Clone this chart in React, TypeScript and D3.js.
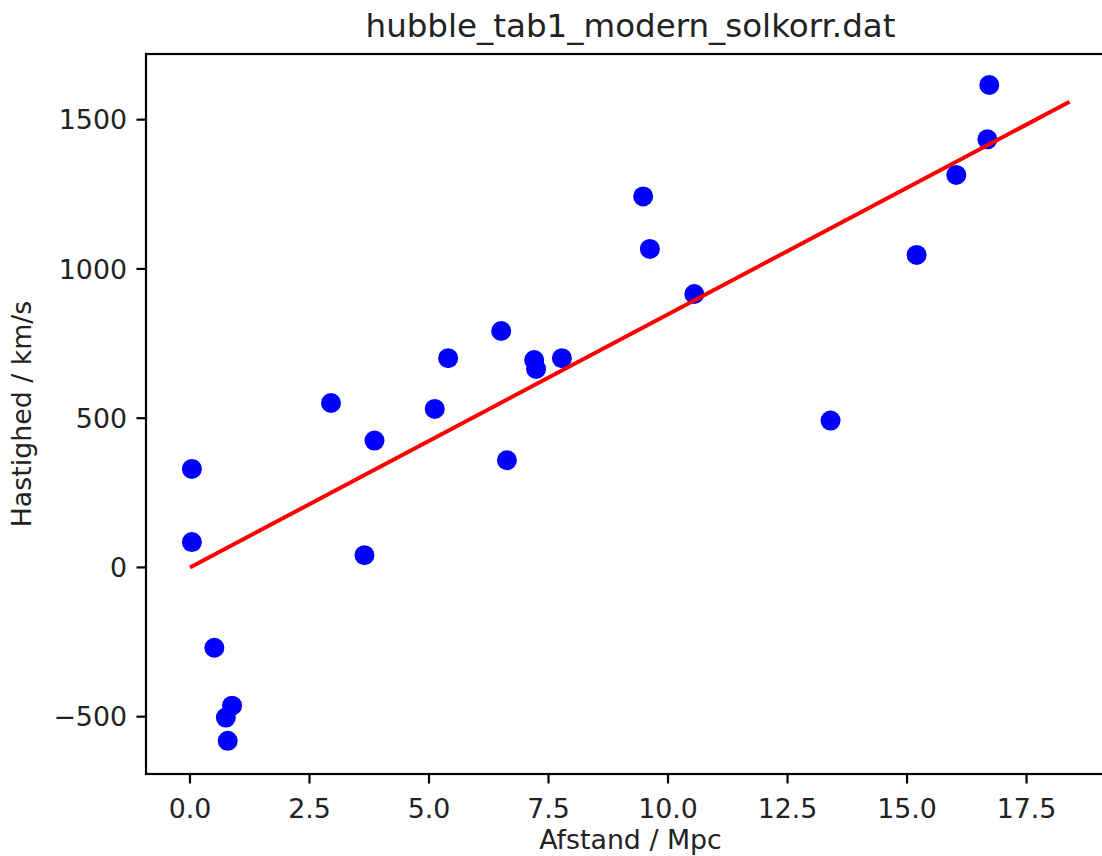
import React, { useEffect, useRef } from "react";
import * as d3 from "d3";

// Afstand (Mpc) og hastighed (km/s) for hver galakse
const distances = [
  0.04, 0.04, 0.51, 0.88, 0.75, 0.79, 3.86, 3.65, 2.95, 6.51, 5.4, 7.2, 7.24, 7.78,
  5.12, 6.63, 9.48, 9.62, 10.55, 13.4, 16.72, 16.68, 16.03, 15.2,
];
const velocities = [
  330, 85, -269, -463, -503, -581, 425, 41, 551, 792, 701, 695, 665, 701, 531, 359,
  1243, 1067, 916, 492, 1616, 1434, 1315, 1047,
];

// Fit-linjens endepunkter
const fitX = [0, 18.4];
const fitY = [0, 1560];

const xTicks = [0, 2.5, 5, 7.5, 10, 12.5, 15, 17.5];
const yTicks = [-500, 0, 500, 1000, 1500];

const App: React.FC = () => {
  const svgRef = useRef<SVGSVGElement>(null);

  useEffect(() => {
    if (!svgRef.current) return;
    const svg = d3.select(svgRef.current);
    svg.selectAll("*").remove();

    const left = 146;
    const right = 1115;
    const top = 54;
    const bottom = 774;
    const font = "DejaVu Sans, sans-serif";
    const tickFont = 26.8;
    const tickLen = 9.5;
    const lw = 2.2;

    const x = d3.scaleLinear().domain([-0.92, 19.35]).range([left, right]);
    const y = d3.scaleLinear().domain([-692, 1720]).range([bottom, top]);

    const fmtY = (d: number) => (d < 0 ? "\u2212" + Math.abs(d) : String(d));

    // Punkter
    svg
      .append("g")
      .selectAll("circle")
      .data(distances.map((d, i) => [d, velocities[i]]))
      .enter()
      .append("circle")
      .attr("cx", (d) => x(d[0]))
      .attr("cy", (d) => y(d[1]))
      .attr("r", 10)
      .attr("fill", "#0000ff");

    // Fit-linje
    const line = d3
      .line<number>()
      .x((d, i) => x(fitX[i]))
      .y((d) => y(d));
    svg
      .append("path")
      .attr("d", line(fitY))
      .attr("fill", "none")
      .attr("stroke", "#ff0000")
      .attr("stroke-width", 4);

    // Ramme
    svg
      .append("rect")
      .attr("x", left)
      .attr("y", top)
      .attr("width", right - left)
      .attr("height", bottom - top)
      .attr("fill", "none")
      .attr("stroke", "#000")
      .attr("stroke-width", lw);

    // X-akse
    const xg = svg.append("g");
    xTicks.forEach((t) => {
      xg.append("line")
        .attr("x1", x(t))
        .attr("x2", x(t))
        .attr("y1", bottom)
        .attr("y2", bottom + tickLen)
        .attr("stroke", "#000")
        .attr("stroke-width", lw);
      xg.append("text")
        .attr("x", x(t))
        .attr("y", bottom + tickLen + 9)
        .attr("dy", "0.95em")
        .attr("text-anchor", "middle")
        .style("font-family", font)
        .style("font-size", tickFont + "px")
        .style("fill", "#222")
        .text(d3.format(".1f")(t));
    });

    // Y-akse
    const yg = svg.append("g");
    yTicks.forEach((t) => {
      yg.append("line")
        .attr("x1", left - tickLen)
        .attr("x2", left)
        .attr("y1", y(t))
        .attr("y2", y(t))
        .attr("stroke", "#000")
        .attr("stroke-width", lw);
      yg.append("text")
        .attr("x", left - tickLen - 9.5)
        .attr("y", y(t))
        .attr("dy", "0.36em")
        .attr("text-anchor", "end")
        .style("font-family", font)
        .style("font-size", tickFont + "px")
        .style("fill", "#222")
        .text(fmtY(t));
    });

    // Titel og aksetitler
    svg
      .append("text")
      .attr("x", (left + right) / 2)
      .attr("y", top - 17)
      .attr("text-anchor", "middle")
      .style("font-family", font)
      .style("font-size", "32.5px")
      .style("fill", "#222")
      .text("hubble_tab1_modern_solkorr.dat");

    svg
      .append("text")
      .attr("x", (left + right) / 2)
      .attr("y", 849)
      .attr("text-anchor", "middle")
      .style("font-family", font)
      .style("font-size", tickFont + "px")
      .style("fill", "#222")
      .text("Afstand / Mpc");

    svg
      .append("text")
      .attr("transform", `translate(31,${(top + bottom) / 2}) rotate(-90)`)
      .attr("text-anchor", "middle")
      .style("font-family", font)
      .style("font-size", tickFont + "px")
      .style("fill", "#222")
      .text("Hastighed / km/s");
  }, []);

  return (
    <svg
      ref={svgRef}
      width={1102}
      height={856}
      style={{ position: "absolute", left: 0, top: 0, background: "#fff" }}
    />
  );
};

export default App;
